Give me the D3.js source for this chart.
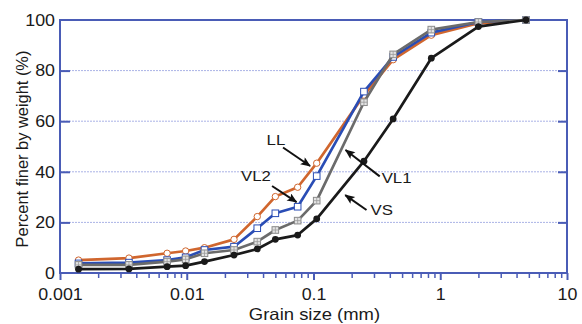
<!DOCTYPE html>
<html>
<head>
<meta charset="utf-8">
<script src="https://cdn.jsdelivr.net/npm/d3@7"></script>
<style>
  body { margin: 0; background: #fff; }
  svg text { font-family: "Liberation Sans", Arial, sans-serif; fill: #1a1a1a; }
</style>
</head>
<body>
<svg id="chart" width="582" height="324"></svg>
<script>
// grain sizes (mm), shared by all four samples
let sizes = [0.0014, 0.0035, 0.007, 0.0098, 0.0138, 0.0236, 0.036, 0.05, 0.075, 0.106, 0.25, 0.425, 0.85, 2.0, 4.75]

let llValues  = [5.1, 5.9, 7.8, 8.7, 10.0, 13.3, 22.3, 30.2, 33.9, 43.4, 70.3, 84.3, 94.0, 98.7, 100]
let vl2Values = [3.8, 4.1, 5.1, 6.2, 9.1, 10.4, 17.7, 23.6, 26.2, 38.3, 71.7, 85.4, 95.0, 99.2, 100]
let vl1Values = [3.2, 3.2, 4.5, 5.4, 7.8, 9.1, 12.4, 17.0, 20.7, 28.6, 67.5, 86.4, 96.2, 99.2, 100]
let vsValues  = [1.5, 1.6, 2.5, 2.9, 4.5, 7.1, 9.5, 13.3, 15.0, 21.4, 44.2, 60.9, 84.9, 97.4, 100]

let yTicks = [0, 20, 40, 60, 80, 100]
let xTicks = [0.001, 0.01, 0.1, 1, 10]

// labels placed in data units
let notes = [
    {text: 'LL',  tx: 0.0505, ty: 52.2, anchor: 'middle', from: [0.0575, 49.6], to: [0.094, 42.3]},
    {text: 'VL2', tx: 0.0352, ty: 37.9, anchor: 'middle', from: [0.0471, 34.4], to: [0.0735, 28.0]},
    {text: 'VL1', tx: 0.345,  ty: 37.3, anchor: 'start',  from: [0.333, 38.2],  to: [0.179, 48.6]},
    {text: 'VS',  tx: 0.282,  ty: 24.4, anchor: 'start',  from: [0.262, 24.9],  to: [0.178, 30.8]}
]

let series = [
    {name: 'LL',  values: llValues,  color: '#d0662e', marker: 'circleOpen'},
    {name: 'VL2', values: vl2Values, color: '#2a4db5', marker: 'squareOpen'},
    {name: 'VL1', values: vl1Values, color: '#6b6b6b', marker: 'squareGrid'},
    {name: 'VS',  values: vsValues,  color: '#1a1a1a', marker: 'dot'}
]

let frameColor = '#4a5cb6'
let mLeft = 60, mRight = 567, mTop = 20, mBottom = 273
let stretch = 1.08   // the original lettering is a little wide

let svg = d3.select('#chart')

let xScale = d3.scaleLog().domain([0.001, 10]).range([mLeft, mRight])
let yScale = d3.scaleLinear().domain([0, 100]).range([mBottom, mTop])

// grid
svg.append('g')
    .selectAll('line')
    .data(yTicks.filter(d => d > 0 && d < 100))
    .enter()
    .append('line')
    .attr('x1', mLeft).attr('x2', mRight)
    .attr('y1', d => yScale(d)).attr('y2', d => yScale(d))
    .attr('stroke', '#aab3e6')
    .attr('stroke-width', 1)
    .attr('stroke-dasharray', '2,1')

// frame
svg.append('rect')
    .attr('x', mLeft).attr('y', mTop)
    .attr('width', mRight - mLeft).attr('height', mBottom - mTop)
    .attr('fill', 'none')
    .attr('stroke', frameColor)
    .attr('stroke-width', 2)

// left axis, ticks pointing in
let yAxis = d3.axisLeft(yScale).tickValues(yTicks).tickSize(-10).tickPadding(5)
let gy = svg.append('g').attr('transform', 'translate(' + mLeft + ',0)').call(yAxis)
gy.select('.domain').remove()
gy.selectAll('.tick line').attr('stroke', frameColor).attr('stroke-width', 2)
gy.selectAll('.tick text')
    .attr('font-size', 16.5)
    .attr('x', null)
    .attr('transform', 'translate(-5,0) scale(' + stretch + ',1)')
    .style('fill', '#1a1a1a')
gy.selectAll('.tick').filter(d => d == 0 || d == 100).select('line').remove()

// right axis ticks
let yAxisR = d3.axisRight(yScale).tickValues(yTicks.filter(d => d > 0 && d < 100)).tickSize(-9).tickFormat('')
let gyr = svg.append('g').attr('transform', 'translate(' + mRight + ',0)').call(yAxisR)
gyr.select('.domain').remove()
gyr.selectAll('.tick line').attr('stroke', frameColor).attr('stroke-width', 2)

// bottom axis: majors with labels + minors
let minors = []
for (let e = -3; e < 1; e++) {
    for (let m = 2; m <= 9; m++) minors.push(m * Math.pow(10, e))
}
let gxm = svg.append('g').attr('transform', 'translate(0,' + mBottom + ')')
    .call(d3.axisBottom(xScale).tickValues(minors).tickSize(5).tickFormat(''))
gxm.select('.domain').remove()
gxm.selectAll('.tick line').attr('stroke', frameColor).attr('stroke-width', 1.5)

let gx = svg.append('g').attr('transform', 'translate(0,' + mBottom + ')')
    .call(d3.axisBottom(xScale).tickValues(xTicks).tickSize(7).tickPadding(8)
        .tickFormat(d => d < 1 ? d3.format('.3~f')(d) : String(d)))
gx.select('.domain').remove()
gx.selectAll('.tick line').attr('stroke', frameColor).attr('stroke-width', 2)
gx.selectAll('.tick text')
    .attr('font-size', 16.5)
    .attr('y', null).attr('dy', null)
    .attr('transform', 'translate(0,27) scale(' + stretch + ',1)')
    .style('fill', '#1a1a1a')

// axis titles
svg.append('text')
    .attr('transform', 'translate(' + ((mLeft + mRight) / 2 + 1) + ',320) scale(' + 1.12 + ',1)')
    .attr('text-anchor', 'middle')
    .attr('font-size', 16.5)
    .text('Grain size (mm)')

svg.append('text')
    .attr('transform', 'translate(28,149) rotate(-90)')
    .attr('text-anchor', 'middle')
    .attr('font-size', 16.4)
    .text('Percent finer by weight (%)')

// curves
let line = d3.line()
    .x(d => xScale(d[0]))
    .y(d => yScale(d[1]))

series.forEach(s => {
    let pts = sizes.map((x, i) => [x, s.values[i]])
    let g = svg.append('g')
    g.append('path')
        .datum(pts)
        .attr('d', line)
        .attr('fill', 'none')
        .attr('stroke', s.color)
        .attr('stroke-width', 2.7)
        .attr('stroke-linejoin', 'round')

    let mk = g.selectAll('g.mk')
        .data(pts)
        .enter()
        .append('g')
        .attr('transform', d => 'translate(' + xScale(d[0]) + ',' + yScale(d[1]) + ')')

    if (s.marker == 'circleOpen') {
        mk.append('circle').attr('r', 3.2).attr('fill', '#fff').attr('stroke', s.color).attr('stroke-width', 1)
    } else if (s.marker == 'squareOpen') {
        mk.append('rect').attr('x', -3.3).attr('y', -3.3).attr('width', 6.6).attr('height', 6.6)
            .attr('fill', '#fff').attr('stroke', s.color).attr('stroke-width', 1)
    } else if (s.marker == 'squareGrid') {
        mk.append('rect').attr('x', -3.3).attr('y', -3.3).attr('width', 6.6).attr('height', 6.6)
            .attr('fill', '#e4e4e4').attr('stroke', '#8a8a8a').attr('stroke-width', 1)
        mk.append('path').attr('d', 'M-3.3,0H3.3M0,-3.3V3.3').attr('stroke', '#9a9a9a').attr('stroke-width', 0.8)
    } else {
        mk.append('circle').attr('r', 3.4).attr('fill', s.color)
    }
})

// annotations
svg.append('defs').append('marker')
    .attr('id', 'arrow')
    .attr('viewBox', '0 0 12 10')
    .attr('refX', 11).attr('refY', 5)
    .attr('markerWidth', 6).attr('markerHeight', 4.2)
    .attr('markerUnits', 'strokeWidth')
    .attr('orient', 'auto')
    .append('path')
    .attr('d', 'M0,0L12,5L0,10L2.5,5z')
    .attr('fill', '#111')

notes.forEach(n => {
    svg.append('line')
        .attr('x1', xScale(n.from[0])).attr('y1', yScale(n.from[1]))
        .attr('x2', xScale(n.to[0])).attr('y2', yScale(n.to[1]))
        .attr('stroke', '#111')
        .attr('stroke-width', 2)
        .attr('marker-end', 'url(#arrow)')
    svg.append('text')
        .attr('transform', 'translate(' + xScale(n.tx) + ',' + yScale(n.ty) + ') scale(1.12,1)')
        .attr('text-anchor', n.anchor)
        .attr('dominant-baseline', 'middle')
        .attr('font-size', 15)
        .text(n.text)
})
</script>
</body>
</html>
